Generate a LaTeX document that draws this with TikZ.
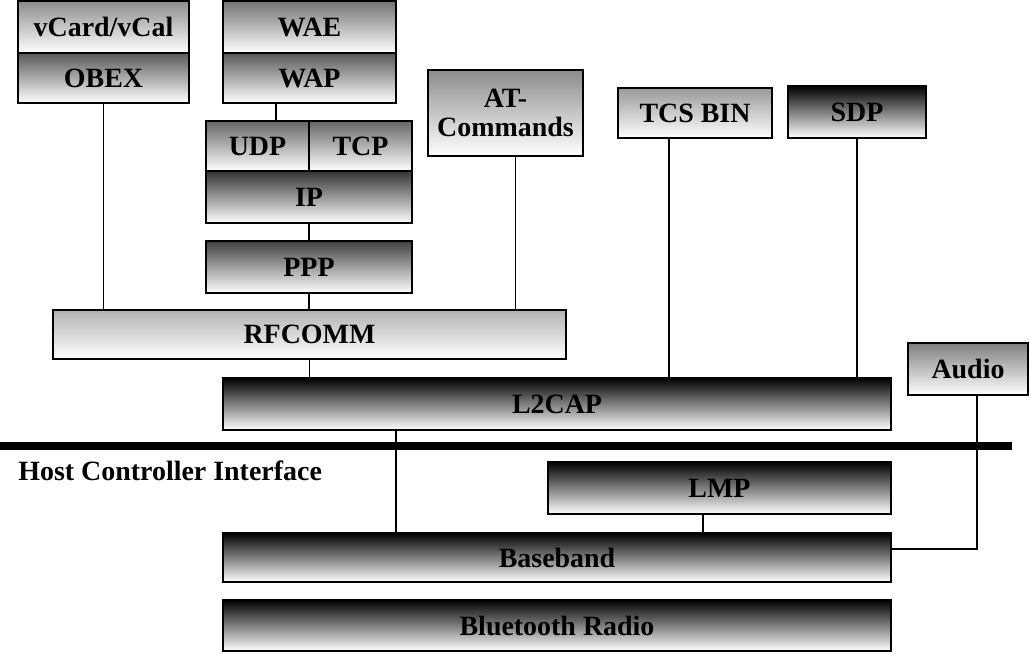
\documentclass[tikz,border=0pt]{standalone}
\usepackage{fontspec}
\setmainfont{Liberation Serif}
\usepackage{tikz}
\usetikzlibrary{positioning,calc}

\begin{document}
\begin{tikzpicture}[x=0.02cm, y=-0.02cm,
    layer/.style={draw, line width=0.8pt, inner sep=0pt, bottom color=white,
      font=\bfseries\fontsize{15.9}{16.5}\selectfont, align=center,
      minimum height=1.04cm},
    link/.style={line width=0.8pt}]
  \useasboundingbox (0,0) rectangle (1030,653);
  % Upper stack
  \node[layer, top color=black!45, minimum width=3.42cm] (vcard) at (103.5,27) {vCard/vCal};
  \node[layer, top color=black!65, minimum width=3.42cm, minimum height=1.0cm] (obex) at (103.5,78) {OBEX};
  \node[layer, top color=black!55, minimum width=3.46cm] (wae) at (309.5,27) {WAE};
  \node[layer, top color=black!65, minimum width=3.46cm, minimum height=1.0cm] (wap) at (309.5,78) {WAP};
  \node[layer, top color=black!60, minimum width=2.06cm, minimum height=1.0cm] (udp) at (257.5,146) {UDP};
  \node[layer, top color=black!60, minimum width=2.06cm, minimum height=1.0cm] (tcp) at (360.5,146) {TCP};
  \node[layer, top color=black!80, minimum width=4.12cm] (ip) at (309,197) {IP};
  \node[layer, top color=black!75, minimum width=4.12cm] (ppp) at (309,267) {PPP};
  \node[layer, top color=black!45, minimum width=3.1cm, minimum height=1.72cm] (atcmd) at (505.5,113) {AT-\\Commands};
  \node[layer, top color=black!40, minimum width=3.08cm, minimum height=1.0cm] (tcsbin) at (695,113) {TCS BIN};
  \node[layer, top color=black, minimum width=2.76cm] (sdp) at (857,112) {SDP};
  \node[layer, top color=black!30, minimum width=10.26cm, minimum height=0.98cm] (rfcomm) at (309.5,334.5) {RFCOMM};
  \node[layer, top color=black, minimum width=13.36cm] (ltwocap) at (557,404) {L2CAP};
  \node[layer, fill=white, minimum width=2.4cm] (audio) at (968,369) {Audio};
  % Host controller side
  \draw[line width=4pt] (0,446) -- (1012,446);
  \node[font=\bfseries\fontsize{15.9}{16.5}\selectfont, anchor=west, inner sep=0pt] (hci) at (18,471) {Host Controller Interface};
  \node[layer, top color=black, minimum width=6.86cm] (lmp) at (719.5,488) {LMP};
  \node[layer, top color=black, minimum width=13.36cm, minimum height=0.98cm] (baseband) at (557,557.5) {Baseband};
  \node[layer, top color=black, minimum width=13.36cm, minimum height=1.02cm] (radio) at (557,625.5) {Bluetooth Radio};
  % Links
  \draw[link] (obex.south) -- (obex.south |- rfcomm.north);
  \draw[link] ([xshift=-0.67cm]wap.south) -- ([xshift=-0.67cm]wap.south |- udp.north);
  \draw[link] (ip.south) -- (ppp.north);
  \draw[link] (ppp.south) -- (ppp.south |- rfcomm.north);
  \draw[link] ([xshift=0.2cm]atcmd.south) -- ([xshift=0.2cm]atcmd.south |- rfcomm.north);
  \draw[link] ([xshift=-0.52cm]tcsbin.south) -- ([xshift=-0.52cm]tcsbin.south |- ltwocap.north);
  \draw[link] (sdp.south) -- (sdp.south |- ltwocap.north);
  \draw[link] (rfcomm.south) -- (rfcomm.south |- ltwocap.north);
  \draw[link] ([xshift=-3.22cm]ltwocap.south) -- ([xshift=-3.22cm]ltwocap.south |- baseband.north);
  \draw[link] ([xshift=-0.33cm]lmp.south) -- ([xshift=-0.33cm]lmp.south |- baseband.north);
  \draw[link] ([xshift=0.18cm]audio.south) |- ([yshift=0.17cm]baseband.east);
\end{tikzpicture}
\end{document}
